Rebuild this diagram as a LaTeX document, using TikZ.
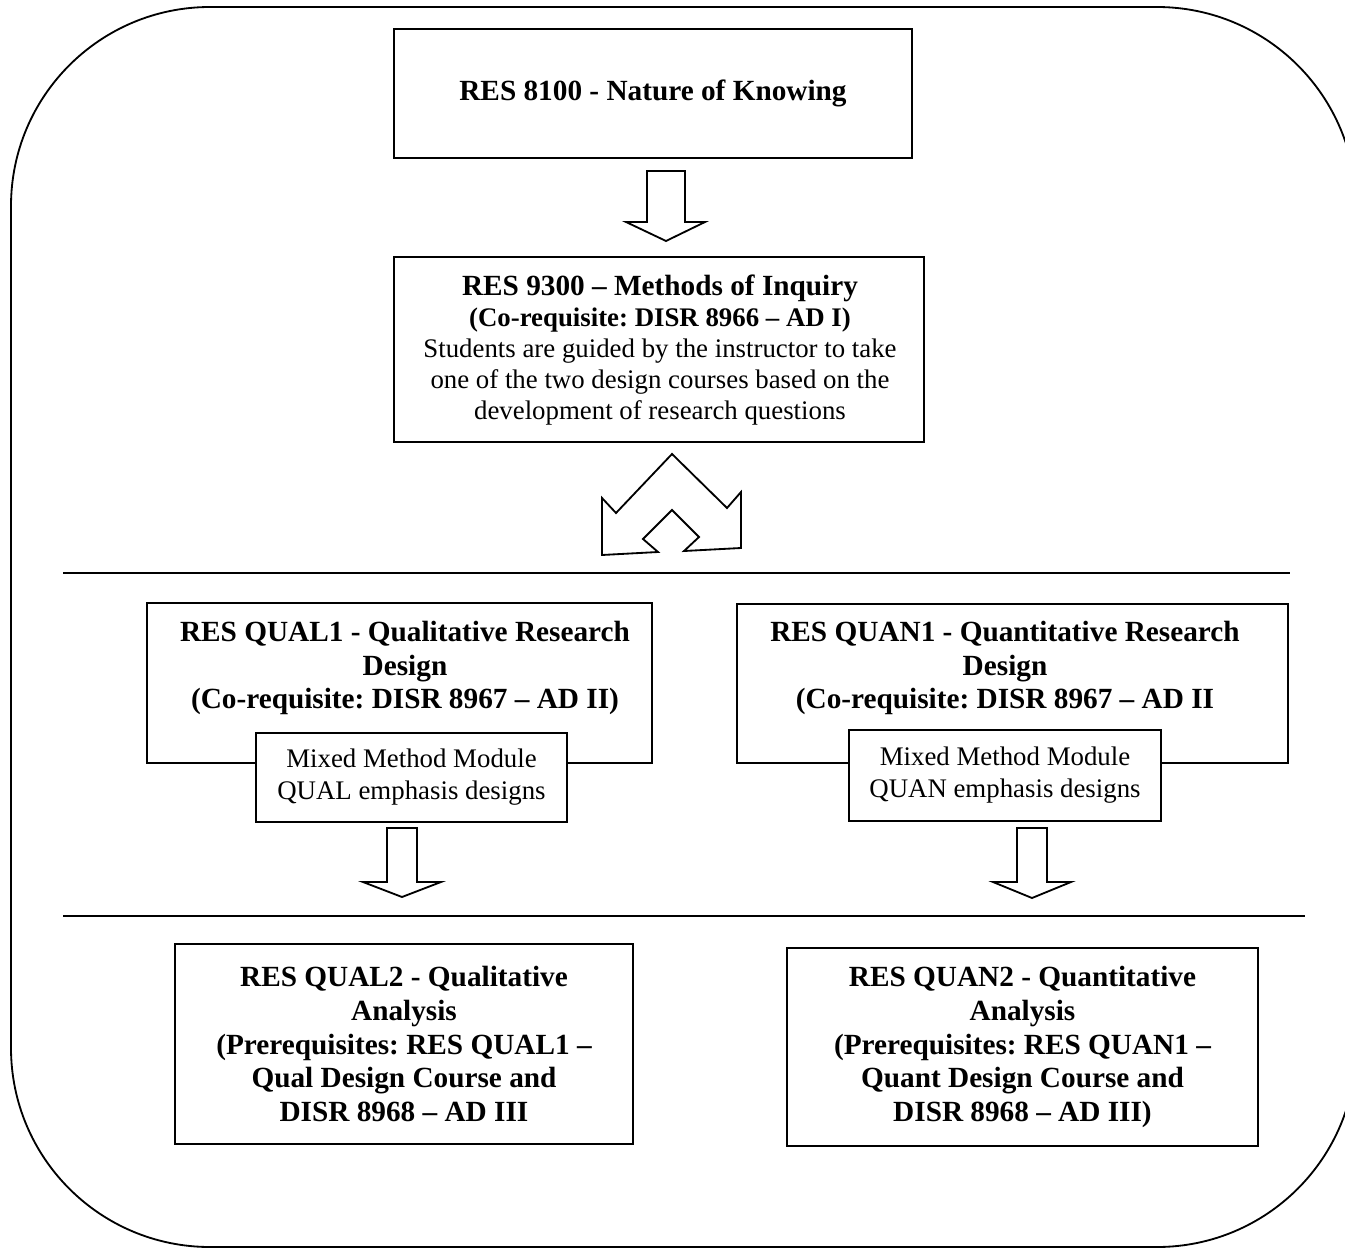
\documentclass[tikz,border=0pt]{standalone}
\usepackage{fontspec}
\setmainfont{Liberation Serif}
\frenchspacing
\begin{document}
\frenchspacing
\begin{tikzpicture}[x=0.41pt,y=-0.41pt,
  box/.style={draw, line width=0.75pt, inner sep=0pt, align=center},
  whitebox/.style={box, fill=white},
  bigb/.style={font=\fontsize{12}{13.8}\selectfont\bfseries},
  small/.style={font=\fontsize{11}{13.1}\selectfont},
  txt/.style={inner sep=0pt, align=center},
  blockarrow/.style={draw, line width=0.75pt, fill=white, line join=miter},
  sepline/.style={draw, line width=0.75pt},
  outer/.style={draw, line width=0.75pt, rounded corners=81.6pt}]
\useasboundingbox (0,0) rectangle (1345,1248);
% outer rounded frame
\draw[outer] (11,7) rectangle (1356,1247);
% top box
\node[box, bigb, minimum width=518*0.41pt, minimum height=129*0.41pt] (k8100) at (653,93.5) {RES 8100 - Nature of Knowing};
% arrow 1
\draw[blockarrow] (647,171) -- (685,171) -- (685,222) -- (705,222) -- (666,241) -- (626,222) -- (647,222) -- cycle;
% box 2
\node[box, minimum width=530*0.41pt, minimum height=185*0.41pt] (k9300) at (659,349.5) {};
\node[txt, font=\fontsize{11}{12.8}\selectfont] (t9300) at (660,350) {{\fontsize{12}{12.8}\selectfont\bfseries RES 9300 – Methods of Inquiry}\\
{\bfseries (Co-requisite: DISR 8966 – AD I)}\\
Students are guided by the instructor to take\\
one of the two design courses based on the\\
development of research questions};
% double arrow
\draw[blockarrow] (672,454) -- (616,513) -- (602,498) -- (602,555) -- (658,552) -- (643,539) -- (672,510) -- (699,537) -- (684,551) -- (741,548) -- (741,492) -- (727,508) -- cycle;
% separator 1
\draw[sepline] (63,573) -- (1290,573);
% QUAL1
\node[box, minimum width=505*0.41pt, minimum height=160*0.41pt] (qual1) at (399.5,683) {};
\node[txt, bigb] (tqual1) at (405,668) {RES QUAL1 - Qualitative Research\\Design\\(Co-requisite: DISR 8967 – AD II)};
\node[whitebox, small, minimum width=311*0.41pt, minimum height=89*0.41pt] (mixql) at (411.5,777.5) {Mixed Method Module\\QUAL emphasis designs};
% QUAN1
\node[box, minimum width=551*0.41pt, minimum height=159*0.41pt] (quan1) at (1012.5,683.5) {};
\node[txt, bigb] (tquan1) at (1005,668) {RES QUAN1 - Quantitative Research\\Design\\(Co-requisite: DISR 8967 – AD II};
\node[whitebox, small, minimum width=312*0.41pt, minimum height=91*0.41pt] (mixqn) at (1005,775.5) {Mixed Method Module\\QUAN emphasis designs};
% lower arrows
\draw[blockarrow] (387,828) -- (417,828) -- (417,882) -- (441,882) -- (402,897) -- (363,882) -- (387,882) -- cycle;
\draw[blockarrow] (1017,828) -- (1047,828) -- (1047,882) -- (1071,882) -- (1032,898) -- (993,882) -- (1017,882) -- cycle;
% separator 2
\draw[sepline] (63,916) -- (1305,916);
% bottom boxes
\node[box, bigb, minimum width=458*0.41pt, minimum height=200*0.41pt] (qual2) at (404,1044) {RES QUAL2 - Qualitative\\Analysis\\(Prerequisites: RES QUAL1 –\\Qual Design Course and\\DISR 8968 – AD III};
\node[box, bigb, minimum width=471*0.41pt, minimum height=198*0.41pt] (quan2) at (1022.5,1047) {RES QUAN2 - Quantitative\\Analysis\\(Prerequisites: RES QUAN1 –\\Quant Design Course and\\DISR 8968 – AD III)};
\end{tikzpicture}
\end{document}
